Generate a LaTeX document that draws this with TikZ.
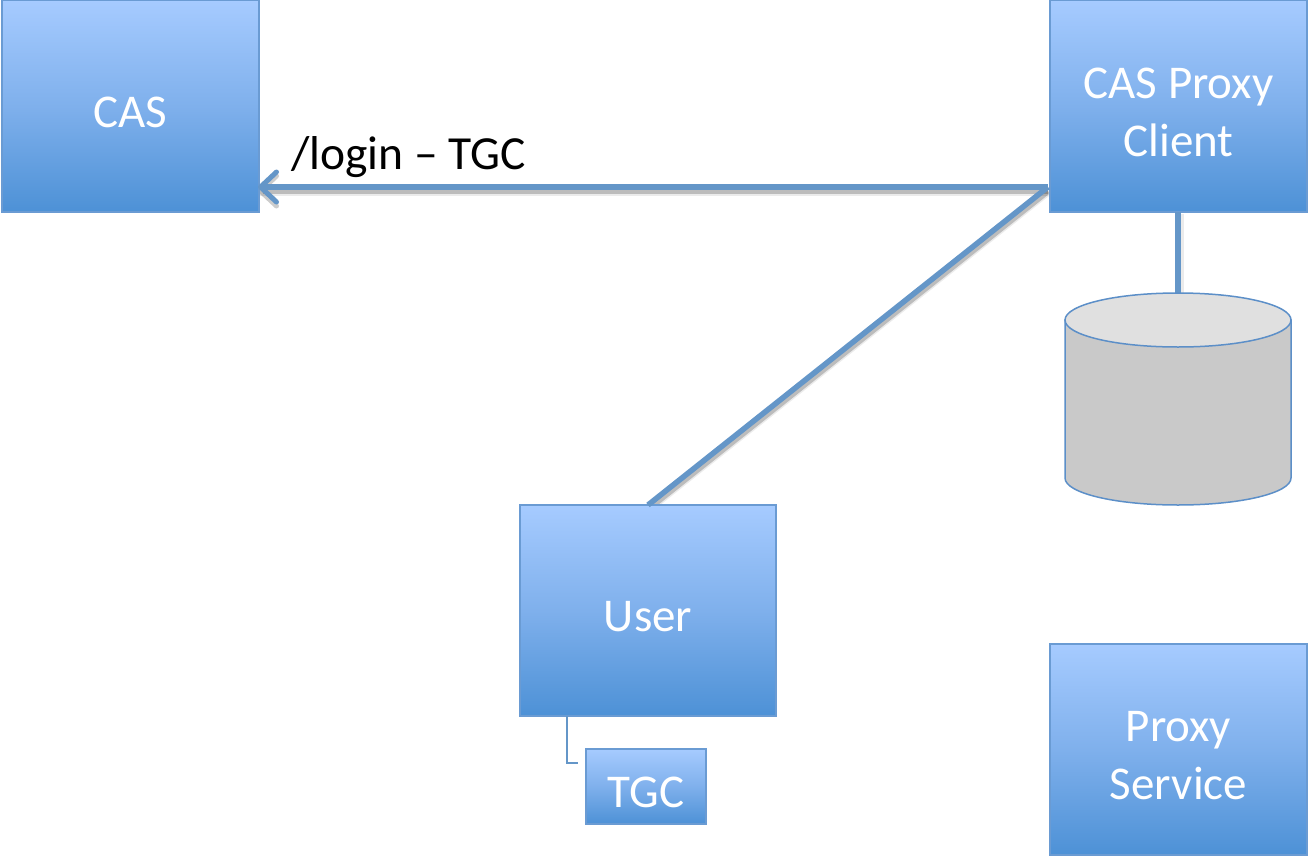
\documentclass[tikz,border=0pt]{standalone}
\usepackage{fontspec}
\setmainfont{Carlito}
\usetikzlibrary{arrows.meta}
\definecolor{boxline}{HTML}{6A9BD3}
\definecolor{link}{HTML}{6496C8}
\definecolor{boxtop}{HTML}{A6CBFF}
\definecolor{boxmid}{HTML}{7FB0EC}
\definecolor{boxbot}{HTML}{4D91D6}
\definecolor{cylline}{HTML}{5C8FC8}
\newcommand{\topstrut}{\rule{0pt}{43pt}}
\tikzset{
  x=1pt,y=-1pt,
  bluebox/.style={rectangle,draw=boxline,line width=1.3pt,inner sep=0pt,align=center,text=white,
    top color=boxtop,bottom color=boxbot,middle color=boxmid,
    font=\fontsize{47}{58}\selectfont},
  cylnode/.style={rectangle,minimum width=226pt,minimum height=212pt,inner sep=0pt},
  cylbody/.style={draw=cylline,line width=1.5pt,fill=black!21},
  cylend/.style={draw=cylline,line width=1.5pt,fill=black!12},
  linkline/.style={draw=link,line width=5.5pt},
  thinlink/.style={draw=link,line width=1.6pt},
  shadowa/.style={draw=black,opacity=.08,line width=9pt},
  shadowb/.style={draw=black,opacity=.2,line width=6pt},
  tipped/.style={-{Straight Barb[length=16pt,width=30pt,line width=5pt,round]}},
  labeltext/.style={text=black,inner sep=0pt,font=\fontsize{47.5}{58}\selectfont},
}
\begin{document}
\begin{tikzpicture}
\useasboundingbox (0,0) rectangle (1310,857);
\fill[white] (0,0) rectangle (1310,857);
% connector end points
\coordinate (pa) at (1048,187);
\coordinate (ca) at (258,187);
\coordinate (pb) at (1048,187);
\coordinate (ua) at (648,505);
\coordinate (pc) at (1178,212);
\coordinate (da) at (1178,293);
\coordinate (ue) at (567,716);
\coordinate (te) at (578,763);
% soft shadows
\draw[shadowa] ([yshift=-4pt]pa) -- ([yshift=-4pt]ca);
\draw[shadowb,tipped] ([yshift=-4pt]pa) -- ([yshift=-4pt]ca);
\draw[shadowa] ([yshift=-4pt]pb) -- ([yshift=-4pt]ua);
\draw[shadowb] ([yshift=-4pt]pb) -- ([yshift=-4pt]ua);
\draw[shadowa] ([xshift=1pt,yshift=-2pt]pc) -- ([xshift=1pt,yshift=-2pt]da);
\node[bluebox,minimum width=257pt,minimum height=212pt] (cas) at (130.5,106) {\topstrut CAS};
\node[bluebox,minimum width=257pt,minimum height=212pt] (client) at (1178.5,106) {\topstrut CAS Proxy\\Client};
\node[bluebox,minimum width=256pt,minimum height=211pt] (user) at (648,610.5) {\topstrut User};
\node[bluebox,minimum width=257pt,minimum height=211pt] (service) at (1178.5,749.5) {\topstrut Proxy\\Service};
\node[bluebox,minimum width=120pt,minimum height=75pt] (tgc) at (646,786.5) {\topstrut TGC};
\draw[linkline,tipped] (pa) -- (ca);
\draw[linkline] (pb) -- (ua);
\draw[linkline] (pc) -- (da);
\node[cylnode] (db) at (1178,399) {};
\draw[cylbody] (1065,320) -- (1065,478) .. controls (1065,493) and (1115,505) .. (1178,505)
  .. controls (1241,505) and (1291,493) .. (1291,478) -- (1291,320) -- cycle;
\draw[cylend] (1065,320) .. controls (1065,305) and (1115,293) .. (1178,293)
  .. controls (1241,293) and (1291,305) .. (1291,320)
  .. controls (1291,335) and (1241,347) .. (1178,347)
  .. controls (1115,347) and (1065,335) .. (1065,320) -- cycle;
\draw[thinlink] (ue) |- (te);
\node[labeltext,anchor=base west] (login) at (291,169) {/login – TGC};
\end{tikzpicture}
\end{document}
